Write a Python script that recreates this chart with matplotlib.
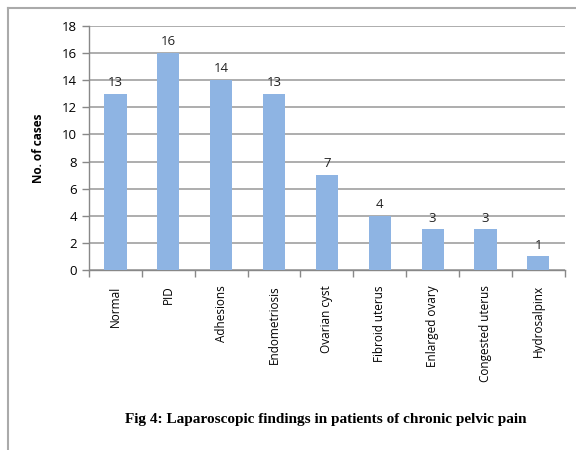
import numpy as np
import matplotlib
matplotlib.use("Agg")
import matplotlib.pyplot as plt
from matplotlib.lines import Line2D

categories = ["Normal", "PID", "Adhesions", "Endometriosis", "Ovarian cyst",
              "Fibroid uterus", "Enlarged ovary", "Congested uterus", "Hydrosalpinx"]
cases = [13, 16, 14, 13, 7, 4, 3, 3, 1]

plt.rcParams['font.family'] = ['Open Sans', 'DejaVu Sans']

fig = plt.figure(figsize=(5.76, 4.5), dpi=100)
ax = fig.add_axes([0.1545, 0.40, 0.826, 0.5422])

x = np.arange(len(categories))
ax.bar(x, cases, width=0.42, color="#8EB4E3", zorder=3)
for xi, v in zip(x, cases):
    ax.text(xi, v + 0.35, str(v), ha="center", va="bottom", fontsize=9.5, color="#222222")

ax.set_xlim(-0.5, len(categories) - 0.5)
ax.set_ylim(0, 18)
ax.set_yticks(range(0, 19, 2))
ax.yaxis.grid(True, color="#A0A0A0", linewidth=1.2, zorder=0)
ax.tick_params(axis="y", labelsize=9.5, length=5, color="#888888", width=1)

ax.set_xticks(np.arange(-0.5, len(categories), 1.0))
ax.set_xticklabels([])
ax.tick_params(axis="x", which="major", length=5, color="#888888", width=1)
ax.set_xticks(x, minor=True)
ax.set_xticklabels(categories, minor=True, rotation=90, fontsize=8.5)
ax.tick_params(axis="x", which="minor", length=0, pad=11)

for s in ["top", "right"]:
    ax.spines[s].set_visible(False)
for s in ["left", "bottom"]:
    ax.spines[s].set_color("#888888")
    ax.spines[s].set_linewidth(1)

ax.set_ylabel("No. of cases", fontsize=8.5, fontweight="bold", labelpad=12)

fig.text(0.565, 0.067, "Fig 4: Laparoscopic findings in patients of chronic pelvic pain",
         ha="center", va="center", fontsize=11, fontweight="bold",
         family="Liberation Serif")

fig.add_artist(Line2D([8 / 576, 1.0], [1 - 8 / 450, 1 - 8 / 450],
                      transform=fig.transFigure, color="#AAAAAA", linewidth=1.5))
fig.add_artist(Line2D([8 / 576, 8 / 576], [0, 1 - 8 / 450],
                      transform=fig.transFigure, color="#AAAAAA", linewidth=1.5))

fig.savefig("out.png", dpi=100)
